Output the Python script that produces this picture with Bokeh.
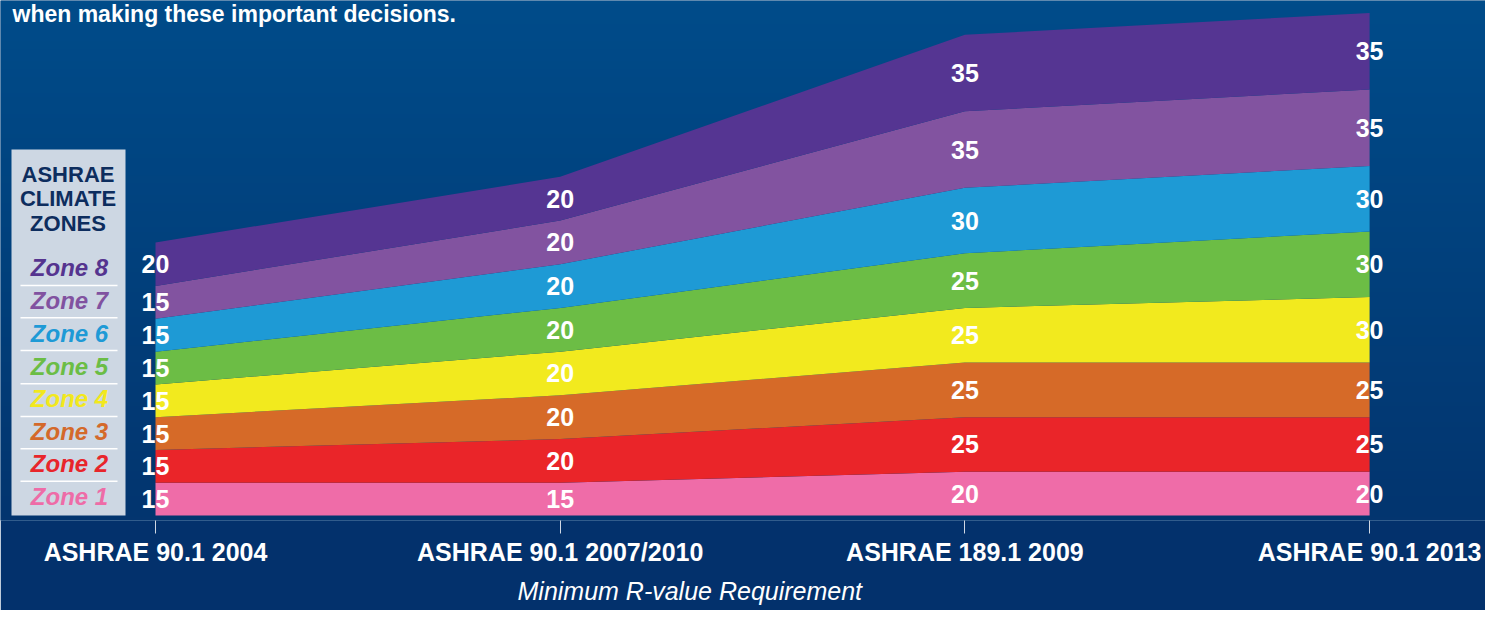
import numpy as np
from bokeh.plotting import figure
from bokeh.models import ColumnDataSource, FixedTicker, Range1d, Title
from bokeh.core.properties import value
from bokeh.embed import file_html
from bokeh.resources import INLINE

# ---------------- data ----------------
standards = ["ASHRAE 90.1 2004", "ASHRAE 90.1 2007/2010", "ASHRAE 189.1 2009", "ASHRAE 90.1 2013"]
zone_names = ["Zone 1", "Zone 2", "Zone 3", "Zone 4", "Zone 5", "Zone 6", "Zone 7", "Zone 8"]
zone1 = [15, 15, 20, 20]
zone2 = [15, 20, 25, 25]
zone3 = [15, 20, 25, 25]
zone4 = [15, 20, 25, 30]
zone5 = [15, 20, 25, 30]
zone6 = [15, 20, 30, 30]
zone7 = [15, 20, 35, 35]
zone8 = [20, 20, 35, 35]
zone_values = [zone1, zone2, zone3, zone4, zone5, zone6, zone7, zone8]
area_colors = ["#ef6ca8", "#ea2529", "#d66a28", "#f2ea1e", "#6cbd45", "#1e9ad5", "#8253a0", "#553592"]
legend_colors = ["#ee6ca7", "#e8252b", "#d4692a", "#f2e81d", "#6bbd45", "#1e9ad6", "#8152a0", "#55348f"]
legend_title = ["ASHRAE", "CLIMATE", "ZONES"]
x_title = "Minimum R-value Requirement"
top_text = "when making these important decisions."

# ---------------- layout helpers (pixels -> data) ----------------
W, H = 1485, 610
X0 = 155.0      # px of first category
UX = 404.7      # px per category
UY = 2.185      # px per R-value unit
BASE = 515.0    # px of zero line
FRAME_B = 520.0

def dx(px):
    return (px - X0) / UX

def dy(py):
    return (BASE - py) / UY

x_start = -X0 / UX
x_end = (W - X0) / UX
y_start = -(FRAME_B - BASE) / UY
y_end = BASE / UY

p = figure(width=W, height=H, output_backend="svg", toolbar_location=None,
           x_range=Range1d(x_start, x_end), y_range=Range1d(y_start, y_end),
           y_axis_location=None, title=None,
           min_border_left=0, min_border_right=0, min_border_top=0,
           min_border_bottom=int(H - FRAME_B))
p.outline_line_color = None
p.grid.visible = False
p.background_fill_color = "#023e7a"
p.border_fill_color = "#03316c"

# background gradient
N = 128
top_c = np.array([0, 76, 138])
bot_c = np.array([3, 53, 111])
t = np.linspace(0, 1, N)[:, None]
cols = (bot_c * (1 - t) + top_c * t).astype(np.uint8)
img = np.zeros((N, 1), dtype=np.uint32)
view = img.view(dtype=np.uint8).reshape((N, 1, 4))
view[:, 0, 0] = cols[:, 0]
view[:, 0, 1] = cols[:, 1]
view[:, 0, 2] = cols[:, 2]
view[:, 0, 3] = 255
p.image_rgba(image=[img], x=x_start, y=y_start, dw=x_end - x_start, dh=y_end - y_start)

# stacked areas
xs = list(range(len(standards)))
data = {"x": xs}
for name, vals in zip(zone_names, zone_values):
    data[name] = vals
src = ColumnDataSource(data)
p.varea_stack(stackers=zone_names, x="x", color=area_colors, source=src)

# value labels
lx, ly, lt = [], [], []
cum = np.zeros(len(standards))
for vals in zone_values:
    v = np.array(vals, dtype=float)
    for i in range(len(standards)):
        lx.append(xs[i])
        ly.append(cum[i] + v[i] / 2.0)
        lt.append(str(vals[i]))
    cum = cum + v
p.text(x=lx, y=ly, text=lt, text_color="white", text_font=value("Liberation Sans"),
       text_font_style="bold", text_font_size="25px", text_align="center",
       text_baseline="middle")

# legend box
p.quad(left=dx(11), right=dx(125), top=dy(149), bottom=dy(515), fill_color="#cdd7e3",
       line_color=None)
p.text(x=[dx(67.5)] * 3, y=[dy(174), dy(198), dy(223)], text=legend_title,
       text_color="#0d2d5e", text_font=value("Liberation Sans"), text_font_style="bold",
       text_font_size="22px", text_align="center", text_baseline="middle")
item_y = [496, 463, 431, 398, 366, 333, 300, 267]
p.text(x=[dx(69)] * 8, y=[dy(v) for v in item_y], text=zone_names, text_color=legend_colors,
       text_font=value("Liberation Sans"), text_font_style="bold italic",
       text_font_size="24px", text_align="center", text_baseline="middle")
sep_y = [285, 317.3, 350, 383.3, 416, 448.3, 480.7]
p.segment(x0=[dx(20)] * 7, x1=[dx(117)] * 7, y0=[dy(v) for v in sep_y],
          y1=[dy(v) for v in sep_y], line_color="white", line_width=1.5)

# text at top (cut off in the reference, kept fully visible here)
p.text(x=[dx(12)], y=[dy(0)], text=[top_text], text_color="white",
       text_font=value("Liberation Sans"), text_font_style="bold", text_font_size="23px",
       text_align="left", text_baseline="top")

# x axis
ax = p.xaxis[0]
ax.ticker = FixedTicker(ticks=xs)
ax.major_label_overrides = {i: s for i, s in zip(xs, standards)}
ax.axis_line_color = None
ax.major_tick_line_color = "#d0d8e4"
ax.major_tick_line_width = 1
ax.major_tick_in = 0
ax.major_tick_out = 13
ax.minor_tick_line_color = None
ax.major_label_standoff = 4
ax.major_label_text_color = "white"
ax.major_label_text_font = "Liberation Sans"
ax.major_label_text_font_style = "bold"
ax.major_label_text_font_size = "25px"

ttl = Title(text=x_title, align="left", offset=517, text_color="white",
            text_font="Liberation Sans", text_font_style="italic", text_font_size="25px",
            standoff=12)
p.add_layout(ttl, "below")

open("out.html", "w").write(file_html(p, INLINE))
